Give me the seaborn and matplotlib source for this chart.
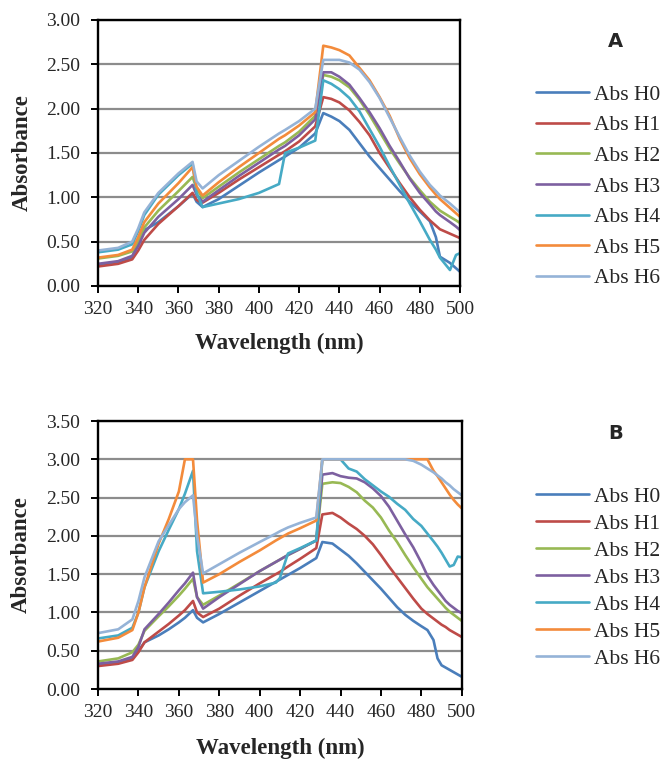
import pandas as pd
import seaborn as sns
import matplotlib.pyplot as plt

# Wavelength grid and absorbance series, panel A
wl_a = [320, 330, 337, 340, 343, 350, 360, 367, 369, 372, 380, 390, 400, 410, 413, 420, 428,
        432, 436, 440, 445, 450, 455, 460, 465, 470, 475, 480, 485, 488, 490, 495, 498, 500]
a_h0 = [0.24, 0.27, 0.32, 0.50, 0.63, 0.72, 0.90, 1.04, 0.95, 0.89, 0.98, 1.13, 1.28, 1.42, 1.46, 1.56, 1.72,
        1.95, 1.91, 1.86, 1.76, 1.61, 1.46, 1.33, 1.20, 1.07, 0.95, 0.84, 0.73, 0.55, 0.33, 0.26, 0.20, 0.16]
a_h1 = [0.22, 0.25, 0.30, 0.40, 0.52, 0.70, 0.90, 1.05, 0.97, 0.94, 1.05, 1.20, 1.34, 1.48, 1.52, 1.63, 1.80,
        2.13, 2.11, 2.07, 1.98, 1.85, 1.70, 1.50, 1.33, 1.16, 1.00, 0.86, 0.74, 0.68, 0.64, 0.59, 0.56, 0.54]
a_h2 = [0.31, 0.34, 0.39, 0.50, 0.66, 0.85, 1.07, 1.23, 1.10, 0.99, 1.12, 1.28, 1.43, 1.58, 1.62, 1.74, 1.92,
        2.38, 2.36, 2.32, 2.24, 2.10, 1.93, 1.74, 1.55, 1.38, 1.22, 1.08, 0.95, 0.89, 0.85, 0.78, 0.74, 0.71]
a_h3 = [0.25, 0.28, 0.34, 0.45, 0.60, 0.78, 0.98, 1.14, 1.03, 0.95, 1.08, 1.24, 1.39, 1.54, 1.58, 1.70, 1.88,
        2.41, 2.41, 2.36, 2.27, 2.12, 1.96, 1.78, 1.58, 1.40, 1.21, 1.05, 0.92, 0.84, 0.80, 0.72, 0.67, 0.63]
a_h4 = [0.38, 0.41, 0.47, 0.62, 0.80, 1.03, 1.25, 1.38, 1.05, 0.89, 0.93, 0.98, 1.05, 1.15, 1.50, 1.56, 1.64,
        2.32, 2.28, 2.22, 2.12, 1.97, 1.77, 1.57, 1.35, 1.14, 0.93, 0.73, 0.52, 0.41, 0.32, 0.18, 0.35, 0.37]
a_h5 = [0.32, 0.35, 0.41, 0.55, 0.72, 0.93, 1.16, 1.34, 1.12, 1.02, 1.17, 1.34, 1.50, 1.66, 1.70, 1.81, 1.96,
        2.71, 2.69, 2.66, 2.60, 2.46, 2.32, 2.13, 1.92, 1.66, 1.44, 1.26, 1.11, 1.03, 0.98, 0.88, 0.82, 0.78]
a_h6 = [0.40, 0.43, 0.50, 0.65, 0.83, 1.05, 1.27, 1.40, 1.18, 1.10, 1.25, 1.41, 1.57, 1.72, 1.76, 1.86, 2.00,
        2.55, 2.55, 2.55, 2.52, 2.44, 2.30, 2.12, 1.90, 1.68, 1.47, 1.29, 1.14, 1.07, 1.02, 0.93, 0.87, 0.83]

# panel B
wl_b = [320, 330, 337, 340, 343, 350, 355, 360, 363, 367, 369, 372, 380, 390, 400, 408, 410, 414, 420, 428,
        431, 436, 440, 444, 448, 452, 456, 460, 464, 468, 472, 476, 480, 483, 486, 488, 490, 492, 494, 496, 498, 500]
b_h0 = [0.32, 0.35, 0.40, 0.50, 0.61, 0.70, 0.78, 0.87, 0.93, 1.03, 0.93, 0.87, 0.98, 1.13, 1.28, 1.40, 1.43, 1.49, 1.58, 1.71,
        1.92, 1.90, 1.82, 1.74, 1.64, 1.53, 1.42, 1.31, 1.19, 1.07, 0.97, 0.89, 0.82, 0.77, 0.64, 0.40, 0.31, 0.28, 0.25, 0.22, 0.19, 0.16]
b_h1 = [0.30, 0.33, 0.38, 0.48, 0.61, 0.75, 0.85, 0.96, 1.03, 1.15, 1.00, 0.94, 1.05, 1.22, 1.38, 1.50, 1.53, 1.60, 1.70, 1.84,
        2.28, 2.30, 2.24, 2.16, 2.09, 2.00, 1.89, 1.75, 1.60, 1.46, 1.32, 1.18, 1.05, 0.98, 0.92, 0.88, 0.84, 0.81, 0.77, 0.74, 0.71, 0.68]
b_h2 = [0.36, 0.40, 0.48, 0.58, 0.76, 0.95, 1.08, 1.22, 1.31, 1.44, 1.20, 1.10, 1.22, 1.38, 1.54, 1.66, 1.69, 1.75, 1.83, 1.94,
        2.68, 2.70, 2.69, 2.64, 2.57, 2.46, 2.37, 2.24, 2.07, 1.92, 1.75, 1.59, 1.44, 1.33, 1.24, 1.18, 1.12, 1.06, 1.01, 0.97, 0.93, 0.89]
b_h3 = [0.33, 0.36, 0.42, 0.55, 0.78, 0.98, 1.13, 1.29, 1.38, 1.52, 1.20, 1.05, 1.20, 1.37, 1.54, 1.66, 1.69, 1.75, 1.83, 1.94,
        2.80, 2.82, 2.78, 2.76, 2.75, 2.70, 2.62, 2.52, 2.38, 2.20, 2.02, 1.85, 1.65, 1.48, 1.36, 1.29, 1.22, 1.15, 1.10, 1.06, 1.02, 0.99]
b_h4 = [0.66, 0.70, 0.80, 1.00, 1.33, 1.80, 2.08, 2.35, 2.55, 2.85, 1.80, 1.25, 1.27, 1.30, 1.34, 1.39, 1.45, 1.77, 1.84, 1.94,
        3.00, 3.00, 3.00, 2.88, 2.84, 2.74, 2.66, 2.58, 2.51, 2.42, 2.34, 2.22, 2.13, 2.03, 1.93, 1.86, 1.78, 1.69, 1.60, 1.62, 1.73, 1.72]
b_h5 = [0.62, 0.67, 0.77, 1.00, 1.33, 1.90, 2.22, 2.58, 3.00, 3.00, 2.20, 1.39, 1.50, 1.66, 1.81, 1.94, 1.97, 2.03, 2.10, 2.20,
        3.00, 3.00, 3.00, 3.00, 3.00, 3.00, 3.00, 3.00, 3.00, 3.00, 3.00, 3.00, 3.00, 3.00, 2.85, 2.78, 2.70, 2.62, 2.54, 2.47, 2.41, 2.36]
b_h6 = [0.73, 0.78, 0.91, 1.15, 1.46, 1.93, 2.14, 2.35, 2.44, 2.53, 2.00, 1.51, 1.63, 1.78, 1.92, 2.03, 2.06, 2.11, 2.17, 2.24,
        3.00, 3.00, 3.00, 3.00, 3.00, 3.00, 3.00, 3.00, 3.00, 3.00, 3.00, 2.98, 2.93, 2.88, 2.83, 2.79, 2.75, 2.70, 2.66, 2.61, 2.57, 2.53]

labels = ['Abs H0', 'Abs H1', 'Abs H2', 'Abs H3', 'Abs H4', 'Abs H5', 'Abs H6']
colors = ['#4A7EBB', '#BE4B48', '#98B954', '#7D60A0', '#46AAC5', '#F38B3B', '#95B3D7']


def to_long(wl, series):
    df = pd.DataFrame({lab: vals for lab, vals in zip(labels, series)})
    df['Wavelength'] = wl
    return df.melt(id_vars='Wavelength', var_name='Series', value_name='Absorbance')


df_a = to_long(wl_a, [a_h0, a_h1, a_h2, a_h3, a_h4, a_h5, a_h6])
df_b = to_long(wl_b, [b_h0, b_h1, b_h2, b_h3, b_h4, b_h5, b_h6])

sns.set_style('white')
plt.rcParams['font.family'] = ['Liberation Serif', 'DejaVu Serif']

fig = plt.figure(figsize=(6.65, 7.6), dpi=100)
ax_a = fig.add_axes([0.1474, 0.6237, 0.5444, 0.35])
ax_b = fig.add_axes([0.1474, 0.0934, 0.547, 0.3526])

# axes, data, ymax, tag, legend centre y, label spacing, tag y, xlabel offset
panels = [(ax_a, df_a, 3.0, 'A', 0.7546, 0.49, 0.945, -0.214),
          (ax_b, df_b, 3.5, 'B', 0.240, 0.32, 0.43, -0.22)]

for ax, df, ymax, tag, leg_y, lspace, tag_y, xl_y in panels:
    sns.lineplot(data=df, x='Wavelength', y='Absorbance', hue='Series', palette=colors,
                 linewidth=1.9, ax=ax)
    ax.set_xlim(320, 500)
    ax.set_ylim(0, ymax)
    nt = int(round(ymax / 0.5)) + 1
    ax.set_xticks(range(320, 501, 20))
    ax.set_yticks([i * 0.5 for i in range(nt)])
    ax.set_yticklabels(['%.2f' % (i * 0.5) for i in range(nt)])
    ax.yaxis.grid(True, color='#8c8c8c', linewidth=1.6)
    ax.set_axisbelow(True)
    for s in ax.spines.values():
        s.set_color('black')
        s.set_linewidth(1.7)
    ax.tick_params(axis='both', direction='out', length=5, width=1.4, color='black',
                   labelsize=14, bottom=True, left=True)
    ax.tick_params(axis='x', pad=5.5)
    ax.tick_params(axis='y', pad=8)
    ax.set_xlabel('Wavelength (nm)', fontsize=16.5, fontweight='bold', va='center')
    ax.set_ylabel('Absorbance', fontsize=16.5, fontweight='bold', va='center')
    ax.xaxis.set_label_coords(0.5, xl_y)
    ax.yaxis.set_label_coords(-0.21, 0.5)
    ax.legend(loc='center left', bbox_to_anchor=(0.806, leg_y), bbox_transform=fig.transFigure,
              frameon=False, fontsize=15.5, handlelength=2.45, handletextpad=0.25,
              labelspacing=lspace, borderaxespad=0, borderpad=0, title=None)
    fig.text(0.925, tag_y, tag, fontsize=14, fontweight='bold', family='DejaVu Sans',
             ha='center', va='center')

fig.savefig('out.png', dpi=100)
